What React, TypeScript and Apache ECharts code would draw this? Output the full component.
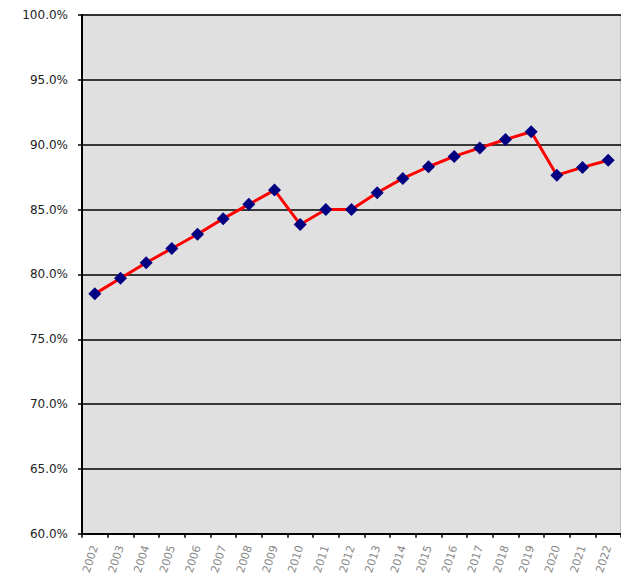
import React, { useEffect, useRef } from "react";
import * as echarts from "echarts";

const years = ["2002","2003","2004","2005","2006","2007","2008","2009","2010","2011","2012","2013","2014","2015","2016","2017","2018","2019","2020","2021","2022"];
const values = [78.5, 79.7, 80.9, 82.0, 83.1, 84.3, 85.4, 86.5, 83.85, 85.0, 85.0, 86.3, 87.4, 88.3, 89.1, 89.75, 90.4, 91.0, 87.65, 88.25, 88.8];
const yMin = 60;
const yMax = 100;
const yStep = 5;

export default function App() {
  const ref = useRef<HTMLDivElement>(null);
  useEffect(() => {
    const chart = echarts.init(ref.current!, null, { renderer: "svg" });
    chart.setOption({
      animation: false,
      backgroundColor: "#ffffff",
      grid: {
        left: 74,
        top: 7,
        width: 540,
        height: 522,
        show: true,
        backgroundColor: "#e0e0e0",
        borderColor: "#a0a0a0",
        borderWidth: 1,
      },
      xAxis: {
        type: "category",
        data: years,
        boundaryGap: true,
        axisLine: { lineStyle: { color: "#000", width: 2 } },
        axisTick: { show: true, length: 4, lineStyle: { color: "#000", width: 1.5 }, alignWithLabel: false },
        axisLabel: {
          rotate: 72,
          color: "#888",
          fontSize: 11,
          fontFamily: "DejaVu Sans, Verdana, sans-serif",
          margin: 12,
          interval: 0,
        },
        splitLine: { show: false },
      },
      yAxis: {
        type: "value",
        min: yMin,
        max: yMax,
        interval: yStep,
        axisLine: { show: true, lineStyle: { color: "#000", width: 2 } },
        axisTick: { show: true, length: 4, lineStyle: { color: "#000", width: 1.5 } },
        axisLabel: {
          formatter: (v: number) => v.toFixed(1) + "%",
          color: "#222",
          fontSize: 12,
          fontFamily: "DejaVu Sans, Verdana, sans-serif",
          margin: 14,
        },
        splitLine: { show: true, lineStyle: { color: "#000", width: 1.5 } },
      },
      series: [
        {
          type: "line",
          data: values,
          symbol: "diamond",
          symbolSize: 13,
          itemStyle: { color: "#000080" },
          lineStyle: { color: "#ff0000", width: 3 },
        },
      ],
    });
    return () => chart.dispose();
  }, []);
  return <div ref={ref} style={{ width: 613, height: 569 }} />;
}
